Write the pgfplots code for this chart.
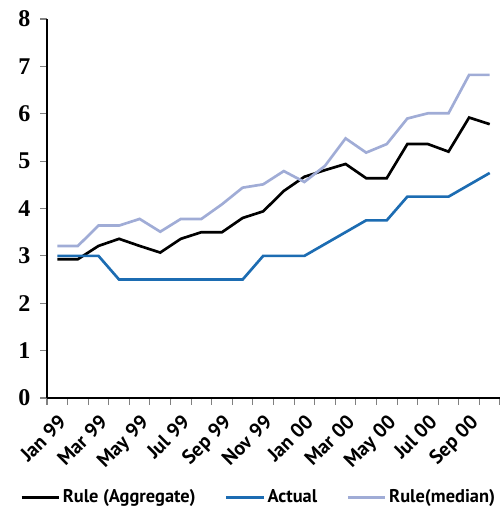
\documentclass[border=0pt]{standalone}
\usepackage{pgfplots}
\pgfplotsset{compat=1.18}
\usepackage{fontspec}
\setmainfont{PT Sans}
\newfontfamily\yfont{Liberation Serif}
\definecolor{actualblue}{RGB}{28,108,178}
\definecolor{medianlav}{RGB}{160,172,214}
\begin{document}
\begin{tikzpicture}
\begin{axis}[
  name=main, at={(0,0)}, anchor=south west,
  scale only axis, width=339.75pt, height=284.25pt,
  xmin=-0.5, xmax=21.5, ymin=0, ymax=8,
  axis x line*=bottom, axis y line*=left,
  axis line style={line width=1pt},
  ytick={0,...,8},
  xtick={0,2,...,20},
  xticklabels={Jan 99,Mar 99,May 99,Jul 99,Sep 99,Nov 99,Jan 00,Mar 00,May 00,Jul 00,Sep 00},
  minor xtick={-0.5,0.5,...,21.5},
  major x tick style={draw=none},
  minor x tick style={line width=0.8pt},
  ytick style={line width=0.8pt},
  tick align=outside, major tick length=5pt, minor tick length=5pt,
  /pgf/number format/assume math mode=true,
  yticklabel style={font=\yfont\bfseries\fontsize{18}{20}\selectfont, xshift=-4pt},
  xticklabel style={font=\bfseries\fontsize{15}{17}\selectfont, yshift=-5pt, rotate=45, anchor=north east, inner sep=1pt},
  legend style={at={(0.468,-0.262)}, anchor=center, draw=none, fill=none,
    font=\bfseries\fontsize{13.8}{16}\selectfont, legend columns=3,
    /tikz/every even column/.append style={column sep=20pt}},
  legend image code/.code={\draw[#1] (0pt,0pt) -- (20pt,0pt); \path (20pt,0pt) -- (28pt,0pt);},
]
\addplot[black, line width=2pt] coordinates {
  (0,2.93) (1,2.93) (2,3.21) (3,3.36) (4,3.21) (5,3.07) (6,3.36) (7,3.50)
  (8,3.50) (9,3.80) (10,3.94) (11,4.37) (12,4.67) (13,4.81) (14,4.94)
  (15,4.64) (16,4.64) (17,5.36) (18,5.36) (19,5.20) (20,5.92) (21,5.78)};
\addlegendentry{Rule (Aggregate)}
\addplot[actualblue, line width=2pt] coordinates {
  (0,3.00) (1,3.00) (2,3.00) (3,2.50) (4,2.50) (5,2.50) (6,2.50) (7,2.50)
  (8,2.50) (9,2.50) (10,3.00) (11,3.00) (12,3.00) (13,3.25) (14,3.50)
  (15,3.75) (16,3.75) (17,4.25) (18,4.25) (19,4.25) (20,4.50) (21,4.75)};
\addlegendentry{Actual}
\addplot[medianlav, line width=2pt] coordinates {
  (0,3.21) (1,3.21) (2,3.64) (3,3.64) (4,3.78) (5,3.51) (6,3.78) (7,3.78)
  (8,4.09) (9,4.44) (10,4.51) (11,4.79) (12,4.56) (13,4.90) (14,5.48)
  (15,5.18) (16,5.36) (17,5.90) (18,6.01) (19,6.01) (20,6.82) (21,6.82)};
\addlegendentry{Rule(median)}
\end{axis}
\pgfresetboundingbox
\path (-35.25pt,-82.5pt) rectangle (339.75pt,298.5pt);
\end{tikzpicture}
\end{document}
